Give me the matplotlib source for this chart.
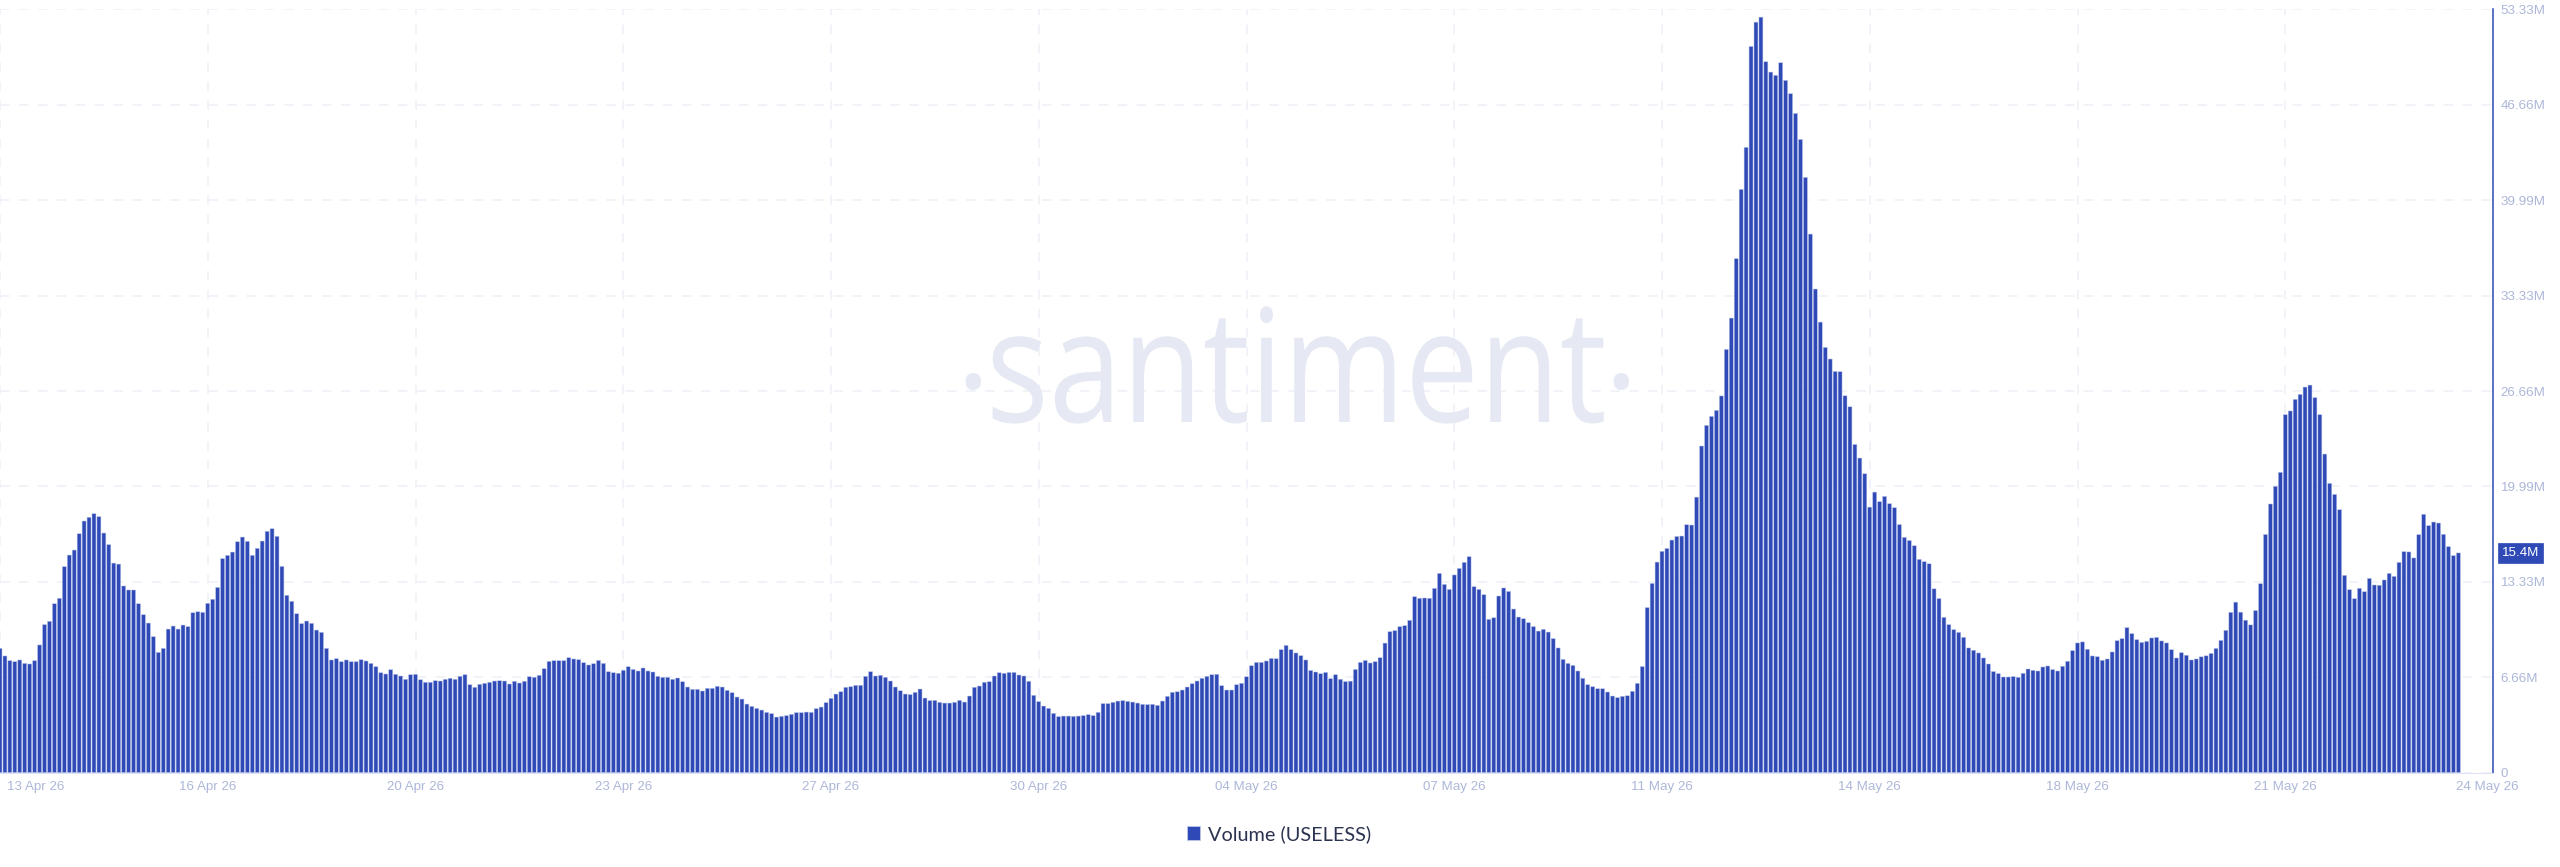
import matplotlib
matplotlib.use("Agg")
import matplotlib.pyplot as plt
import matplotlib.patches as mpatches
import matplotlib.patheffects as path_effects
import matplotlib.transforms as mtransforms
import numpy as np

# volume per 2h bar, in millions
volume = [
    8.68, 8.15, 7.82, 7.75, 7.87, 7.63, 7.59, 7.82, 8.92, 10.34, 10.57, 11.80, 12.18, 14.39, 15.20, 15.55, 16.69, 17.58, 17.84, 18.09,
    17.88, 16.74, 15.93, 14.64, 14.57, 13.04, 12.76, 12.76, 11.80, 11.03, 10.45, 9.50, 8.40, 8.68, 10.03, 10.24, 10.03, 10.31, 10.20, 11.17,
    11.24, 11.20, 11.83, 12.11, 12.94, 14.95, 15.18, 15.41, 16.13, 16.46, 16.16, 15.18, 15.67, 16.18, 16.86, 17.04, 16.51, 14.41, 12.39, 11.97,
    11.10, 10.41, 10.59, 10.43, 9.96, 9.80, 8.68, 7.87, 7.96, 7.75, 7.87, 7.75, 7.75, 7.89, 7.80, 7.63, 7.40, 6.98, 6.89, 7.19,
    6.87, 6.75, 6.52, 6.84, 6.87, 6.49, 6.31, 6.31, 6.42, 6.40, 6.52, 6.59, 6.52, 6.73, 6.84, 6.14, 5.96, 6.17, 6.24, 6.31,
    6.40, 6.42, 6.40, 6.19, 6.38, 6.26, 6.38, 6.70, 6.66, 6.80, 7.26, 7.77, 7.82, 7.82, 7.82, 8.03, 7.94, 7.89, 7.68, 7.52,
    7.61, 7.84, 7.63, 7.05, 6.98, 6.94, 7.15, 7.40, 7.21, 7.10, 7.31, 7.10, 7.03, 6.73, 6.66, 6.66, 6.52, 6.61, 6.35, 5.98,
    5.82, 5.82, 5.70, 5.89, 5.89, 6.03, 5.98, 5.75, 5.58, 5.28, 5.14, 4.79, 4.63, 4.49, 4.37, 4.21, 4.12, 3.88, 3.93, 3.98,
    4.07, 4.19, 4.19, 4.23, 4.21, 4.47, 4.58, 4.89, 5.19, 5.49, 5.65, 5.96, 6.00, 6.10, 6.10, 6.73, 7.05, 6.75, 6.80, 6.66,
    6.40, 5.98, 5.72, 5.49, 5.45, 5.61, 5.84, 5.21, 5.03, 5.05, 4.91, 4.86, 4.86, 4.91, 5.05, 4.93, 5.35, 5.96, 6.05, 6.31,
    6.35, 6.75, 6.98, 6.94, 7.00, 7.00, 6.82, 6.75, 6.38, 5.40, 4.96, 4.65, 4.49, 4.14, 3.91, 3.95, 3.95, 3.93, 3.95, 3.98,
    4.05, 3.98, 4.21, 4.82, 4.82, 4.91, 5.00, 5.03, 4.98, 4.93, 4.86, 4.77, 4.75, 4.77, 4.70, 5.00, 5.33, 5.61, 5.65, 5.77,
    5.98, 6.21, 6.40, 6.59, 6.73, 6.84, 6.87, 6.07, 5.77, 5.77, 6.14, 6.24, 6.70, 7.47, 7.70, 7.70, 7.80, 7.98, 7.96, 8.59,
    8.89, 8.59, 8.36, 8.17, 7.87, 7.14, 7.03, 6.91, 7.00, 6.56, 6.84, 6.52, 6.36, 6.39, 7.21, 7.70, 7.84, 7.66, 7.75, 8.03,
    9.05, 9.85, 9.92, 10.20, 10.27, 10.64, 12.29, 12.18, 12.20, 12.18, 12.87, 13.92, 13.15, 12.80, 13.81, 14.27, 14.69, 15.09, 12.99, 12.80,
    12.43, 10.71, 10.82, 12.34, 12.90, 12.66, 11.43, 10.87, 10.75, 10.48, 10.20, 9.89, 10.01, 9.82, 9.36, 8.71, 7.91, 7.63, 7.49, 7.10,
    6.59, 6.14, 6.00, 5.86, 5.86, 5.63, 5.35, 5.24, 5.33, 5.37, 5.68, 6.24, 7.41, 11.53, 13.22, 14.71, 15.46, 15.66, 16.25, 16.50,
    16.53, 17.32, 17.30, 19.25, 22.82, 24.26, 24.89, 25.31, 26.32, 29.57, 31.76, 35.91, 40.75, 43.69, 50.74, 52.44, 52.79, 49.67, 48.95, 48.72,
    49.60, 48.37, 47.44, 46.06, 44.24, 41.59, 37.63, 33.79, 31.48, 29.71, 28.90, 28.03, 28.01, 26.33, 25.56, 22.93, 21.98, 20.88, 18.55, 19.60,
    18.93, 19.30, 18.79, 18.51, 17.33, 16.44, 16.22, 15.85, 14.90, 14.74, 14.59, 12.84, 12.16, 10.85, 10.34, 9.99, 9.80, 9.45, 8.71, 8.55,
    8.36, 8.01, 7.59, 7.06, 6.92, 6.68, 6.68, 6.71, 6.66, 6.94, 7.24, 7.15, 7.10, 7.38, 7.45, 7.20, 7.10, 7.43, 7.78, 8.52,
    9.06, 9.13, 8.62, 8.15, 8.10, 7.85, 7.94, 8.43, 9.22, 9.36, 10.13, 9.71, 9.29, 9.10, 9.17, 9.41, 9.45, 9.20, 9.06, 8.59,
    8.01, 8.38, 8.20, 7.87, 7.94, 8.09, 8.16, 8.33, 8.68, 9.24, 9.94, 11.20, 11.91, 11.21, 10.65, 10.32, 11.32, 13.20, 16.64, 18.77,
    20.00, 20.98, 25.01, 25.27, 26.08, 26.43, 26.94, 27.08, 26.20, 25.01, 22.26, 20.21, 19.44, 18.37, 13.78, 12.78, 12.15, 12.88, 12.64, 13.57,
    13.11, 13.09, 13.46, 13.92, 13.71, 14.69, 15.44, 15.42, 15.00, 16.63, 18.05, 17.26, 17.51, 17.44, 16.65, 15.79, 15.16, 15.35,
]

date_labels = ["13 Apr 26", "16 Apr 26", "20 Apr 26", "23 Apr 26", "27 Apr 26", "30 Apr 26", "04 May 26",
               "07 May 26", "11 May 26", "14 May 26", "18 May 26", "21 May 26", "24 May 26"]
y_ticks = [0, 6.665, 13.33, 19.995, 26.66, 33.325, 39.99, 46.655, 53.33]
y_labels = ["0", "6.66M", "13.33M", "19.99M", "26.66M", "33.33M", "39.99M", "46.66M", "53.33M"]
last_label = "15.4M"
legend_label = "Volume (USELESS)"

BLUE = "#2f4ab6"
TICK_COL = "#adb7d8"
GRID_COL = "#eff0f8"
WM_COL = "#e6e9f3"
WIDTH, HEIGHT = 2560, 867


class Stretch(path_effects.AbstractPathEffect):
    # the watermark font is narrower and taller than anything installed
    def __init__(self, sx, sy):
        super().__init__()
        self.sx = sx
        self.sy = sy

    def draw_path(self, renderer, gc, tpath, affine, rgbFace=None):
        renderer.draw_path(gc, tpath, mtransforms.Affine2D().scale(self.sx, self.sy) + affine, rgbFace)


plt.rcParams["font.family"] = ["Liberation Sans", "DejaVu Sans"]

fig = plt.figure(figsize=(WIDTH / 100, HEIGHT / 100), dpi=100)
top, bottom = 9.4, 772.6
ax = fig.add_axes([0, 1 - bottom / HEIGHT, 2493 / WIDTH, (bottom - top) / HEIGHT])

x = np.arange(len(volume))
bars = ax.bar(x, volume, width=0.8, color=BLUE, edgecolor="#b9c4ec", linewidth=0.35, zorder=3, label=legend_label)
for b in bars:
    b.set_snap(False)

ax.set_xlim(0, 504)
ax.set_ylim(0, 53.33)

ax.set_xticks(np.arange(0, 505, 42), date_labels)
ax.set_yticks(y_ticks, y_labels)
ax.yaxis.tick_right()
ax.tick_params(axis="both", length=0, labelsize=9.6, labelcolor=TICK_COL)
ax.tick_params(axis="x", pad=6.2)
ax.tick_params(axis="y", pad=5.5)
ax.grid(True, color=GRID_COL, linewidth=1.1, linestyle=(0, (6.2, 6.2)), zorder=0)
ax.set_axisbelow(True)

# first and last date labels are pushed inside the chart edges
xlabels = ax.get_xticklabels()
xlabels[0].set_ha("left")
xlabels[0].set_transform(xlabels[0].get_transform() + mtransforms.ScaledTranslation(7 / 100, 0, fig.dpi_scale_trans))
xlabels[-1].set_transform(xlabels[-1].get_transform() + mtransforms.ScaledTranslation(-6 / 100, 0, fig.dpi_scale_trans))

for s in ["top", "left"]:
    ax.spines[s].set_visible(False)
ax.spines["right"].set_color(BLUE)
ax.spines["right"].set_linewidth(1.1)
ax.spines["bottom"].set_color("#dfe3f3")
ax.spines["bottom"].set_linewidth(0.8)

# watermark
wm = dict(color=WM_COL, family="Open Sans", va="baseline", ha="left", zorder=1, transform=mtransforms.IdentityTransform())
ax.text(986, HEIGHT - 422, "santiment", fontsize=94.4, path_effects=[Stretch(1.005, 1.2)], **wm)
ax.text(955, HEIGHT - 428, "\u00b7", fontsize=95, **wm)
ax.text(1603, HEIGHT - 428, "\u00b7", fontsize=95, **wm)

# last value tag on the right axis
ax.annotate(last_label, xy=(1, volume[-1]), xycoords=("axes fraction", "data"), xytext=(9, 0),
            textcoords="offset pixels", ha="left", va="center", color="white", fontsize=9.6,
            bbox=dict(boxstyle="square,pad=0.3", fc=BLUE, ec=BLUE, lw=0.5), annotation_clip=False, zorder=6)

handle = mpatches.Patch(facecolor=BLUE, edgecolor="#c3ccee", linewidth=0.5)
fig.legend(handles=[handle], labels=[legend_label], loc="center left", bbox_to_anchor=(1187 / WIDTH, 1 - 834 / HEIGHT),
           frameon=False, prop=dict(family="Lato", size=14.3), labelcolor="#2c3350",
           handlelength=0.65, handleheight=0.65, handletextpad=0.42, borderpad=0, borderaxespad=0)

fig.savefig("out.png", dpi=100)
